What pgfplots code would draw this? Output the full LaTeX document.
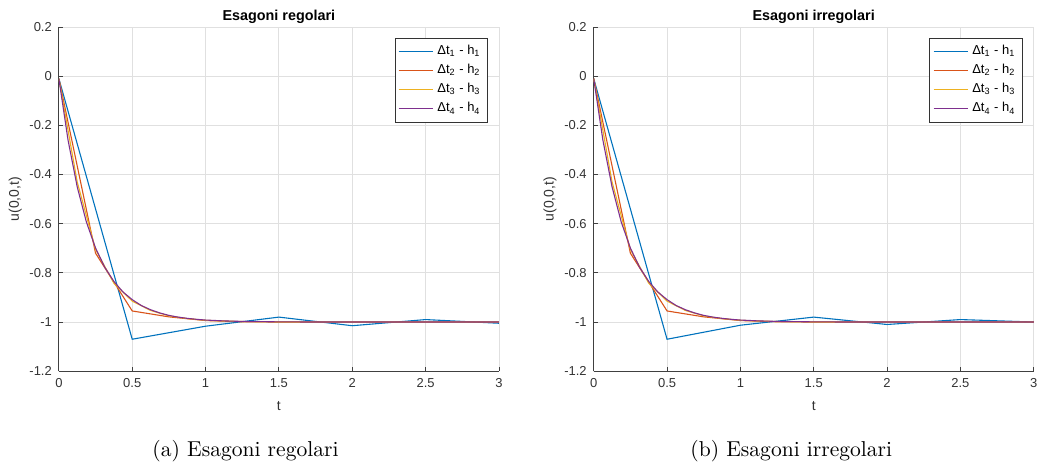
\documentclass[border=0pt]{standalone}
\usepackage{fontspec}
\newfontfamily\arial{Liberation Sans}
\usepackage{pgfplots}
\pgfplotsset{compat=1.18}

\definecolor{mblue}{rgb}{0,0.447,0.741}
\definecolor{morange}{rgb}{0.85,0.325,0.098}
\definecolor{myellow}{rgb}{0.929,0.694,0.125}
\definecolor{mpurple}{rgb}{0.494,0.184,0.556}

\pgfplotsset{matlab/.style={
    scale only axis,
    width=220.5pt, height=172.5pt,
    xmin=0, xmax=3, ymin=-1.2, ymax=0.2,
    xtick={0,0.5,1,1.5,2,2.5,3},
    ytick={-1.2,-1,-0.8,-0.6,-0.4,-0.2,0,0.2},
    axis x line*=bottom, axis y line*=left,
    axis line style={-, black!75, line width=0.5pt},
    tick style={black!75, line width=0.4pt},
    tick align=inside, major tick length=2pt,
    grid=major, grid style={black!12, line width=0.4pt},
    tick label style={font=\arial\fontsize{6.5}{8}\selectfont, black!80},
    /pgf/number format/assume math mode=true,
    label style={font=\arial\fontsize{7}{8}\selectfont, black!80},
    ylabel style={yshift=-3pt},
    title style={font=\arial\bfseries\fontsize{7.2}{8}\selectfont, yshift=-8pt},
    xlabel={t}, ylabel={u(0,0,t)},
    legend style={at={(0.975,0.969)}, anchor=north east, draw=black!80,
        font=\arial\fontsize{6.5}{8}\selectfont,
        cells={anchor=west}, row sep=-0.6pt, inner sep=1.5pt},
    legend image code/.code={\draw[#1, line width=0.7pt] (0cm,0cm) -- (0.6cm,0cm);},
}}

% finest solution dt4 - h4
\pgfplotstableread{
t u
0 -0.01
0.0625 -0.26
0.125 -0.45
0.1875 -0.593
0.25 -0.699
0.3125 -0.777
0.375 -0.835
0.4375 -0.878
0.5 -0.909
0.5625 -0.933
0.625 -0.950
0.6875 -0.963
0.75 -0.973
0.8125 -0.980
0.875 -0.985
0.9375 -0.989
1.0 -0.992
1.125 -0.9955
1.25 -0.9975
1.5 -0.9993
1.75 -1.0
2 -1.0
2.5 -1.0
3 -1.0
}\tabD

\pgfplotstableread{
t u
0 -0.01
0.125 -0.43
0.25 -0.705
0.375 -0.842
0.5 -0.915
0.625 -0.953
0.75 -0.975
0.875 -0.986
1 -0.993
1.125 -0.996
1.25 -0.998
1.5 -1.0
2 -1.0
2.5 -1.0
3 -1.0
}\tabC

\pgfplotstableread{
t u
0 -0.01
0.25 -0.72
0.5 -0.955
0.75 -0.979
1 -0.994
1.25 -0.999
1.5 -1.0
1.75 -1.0
2 -1.0
2.5 -1.0
3 -1.0
}\tabB

\begin{document}
\begin{tikzpicture}
\path (-29.5pt,-48pt) rectangle (492.5pt,186pt);

\begin{axis}[matlab, at={(0,0)}, title={Esagoni regolari}]
\addplot[draw=mblue, line width=0.55pt] coordinates {(0,-0.01) (0.5,-1.07) (1,-1.017) (1.5,-0.98) (2,-1.015) (2.5,-0.99) (3,-1.005)};
\addplot[draw=morange, line width=0.55pt] table {\tabB};
\addplot[draw=myellow, line width=0.55pt] table {\tabC};
\addplot[draw=mpurple, line width=0.55pt] table {\tabD};
\legend{Δt\textsubscript{1} - h\textsubscript{1}, Δt\textsubscript{2} - h\textsubscript{2}, Δt\textsubscript{3} - h\textsubscript{3}, Δt\textsubscript{4} - h\textsubscript{4}}
\end{axis}

\begin{axis}[matlab, at={(268pt,0)}, title={Esagoni irregolari}]
\addplot[draw=mblue, line width=0.55pt] coordinates {(0,-0.01) (0.5,-1.07) (1,-1.013) (1.5,-0.98) (2,-1.01) (2.5,-0.99) (3,-1.0)};
\addplot[draw=morange, line width=0.55pt] table {\tabB};
\addplot[draw=myellow, line width=0.55pt] table {\tabC};
\addplot[draw=mpurple, line width=0.55pt] table {\tabD};
\legend{Δt\textsubscript{1} - h\textsubscript{1}, Δt\textsubscript{2} - h\textsubscript{2}, Δt\textsubscript{3} - h\textsubscript{3}, Δt\textsubscript{4} - h\textsubscript{4}}
\end{axis}

\node[font=\fontsize{10.8}{13}\selectfont] at (93.5pt,-40pt) {(a) Esagoni regolari};
\node[font=\fontsize{10.8}{13}\selectfont] at (367pt,-40pt) {(b) Esagoni irregolari};
\end{tikzpicture}
\end{document}
